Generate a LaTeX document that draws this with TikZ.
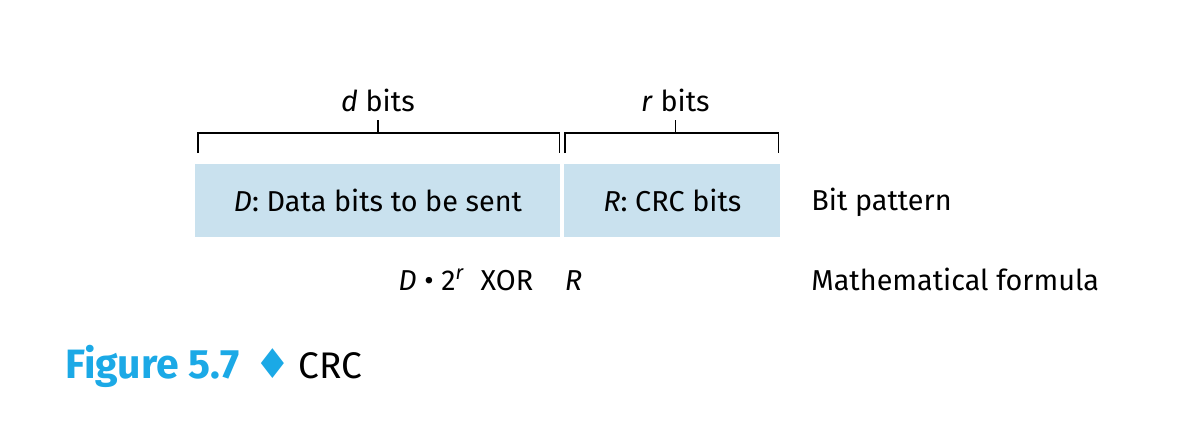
\documentclass[tikz,border=0pt]{standalone}
\usepackage{fontspec}
\setmainfont{Fira Sans}
\newfontfamily\symfont{DejaVu Sans}
\usetikzlibrary{positioning}
\definecolor{bitblue}{HTML}{C9E1EE}
\definecolor{figcyan}{HTML}{1BA9E6}

\begin{document}
\begin{tikzpicture}[x=0.5pt, y=-0.5pt,
    block/.style={fill=bitblue, minimum height=36.5pt, inner sep=0pt, font=\fontsize{14.4}{17}\selectfont},
    brace/.style={line width=0.6pt},
    lbl/.style={inner sep=0pt, font=\fontsize{14.4}{17}\selectfont}
]
\useasboundingbox (0,0) rectangle (1183,430);
\node[block, minimum width=182.5pt, anchor=north west] (data) at (195,164) {\textit{D}: Data bits to be sent};
\node[block, minimum width=108pt, anchor=north west] (crc) at (564,164) {\textit{R}: CRC bits};
\draw[brace] ([shift={(1.5pt,5.5pt)}]data.north west) |- ([shift={(-0.5pt,15.5pt)}]data.north east) -- ++(0,-10pt);
\draw[brace] ([shift={(0.5pt,5.5pt)}]crc.north west) |- ([shift={(-1pt,15.5pt)}]crc.north east) -- ++(0,-10pt);
\draw[brace] ([yshift=15.5pt]data.north) -- ++(0,6.5pt) coordinate (dtick);
\draw[brace] ([shift={(1.5pt,15.5pt)}]crc.north) -- ++(0,6.5pt) coordinate (rtick);
\node[lbl, above=4pt of dtick] (dbits) {\textit{d} bits};
\node[lbl, above=4pt of rtick] (rbits) {\textit{r} bits};
\node[lbl, anchor=base west] (pattern) at (811,210) {Bit pattern};
\node[lbl, anchor=base west] (math) at (811,290) {Mathematical formula};
\node[lbl, anchor=base west] (formula) at (398,290) {\textit{D} • 2\textsuperscript{\textit{r}}\hspace{0.55em}XOR\hspace{1.1em}\textit{R}};
\node[inner sep=0pt, anchor=base west, font=\fontsize{18.5}{23}\selectfont] (caption) at (65,378)
    {\textcolor{figcyan}{\fontsize{20.5}{23}\selectfont\bfseries Figure 5.7\hspace{0.35em}{\symfont ♦}}\hspace{0.2em}CRC};
\end{tikzpicture}
\end{document}
